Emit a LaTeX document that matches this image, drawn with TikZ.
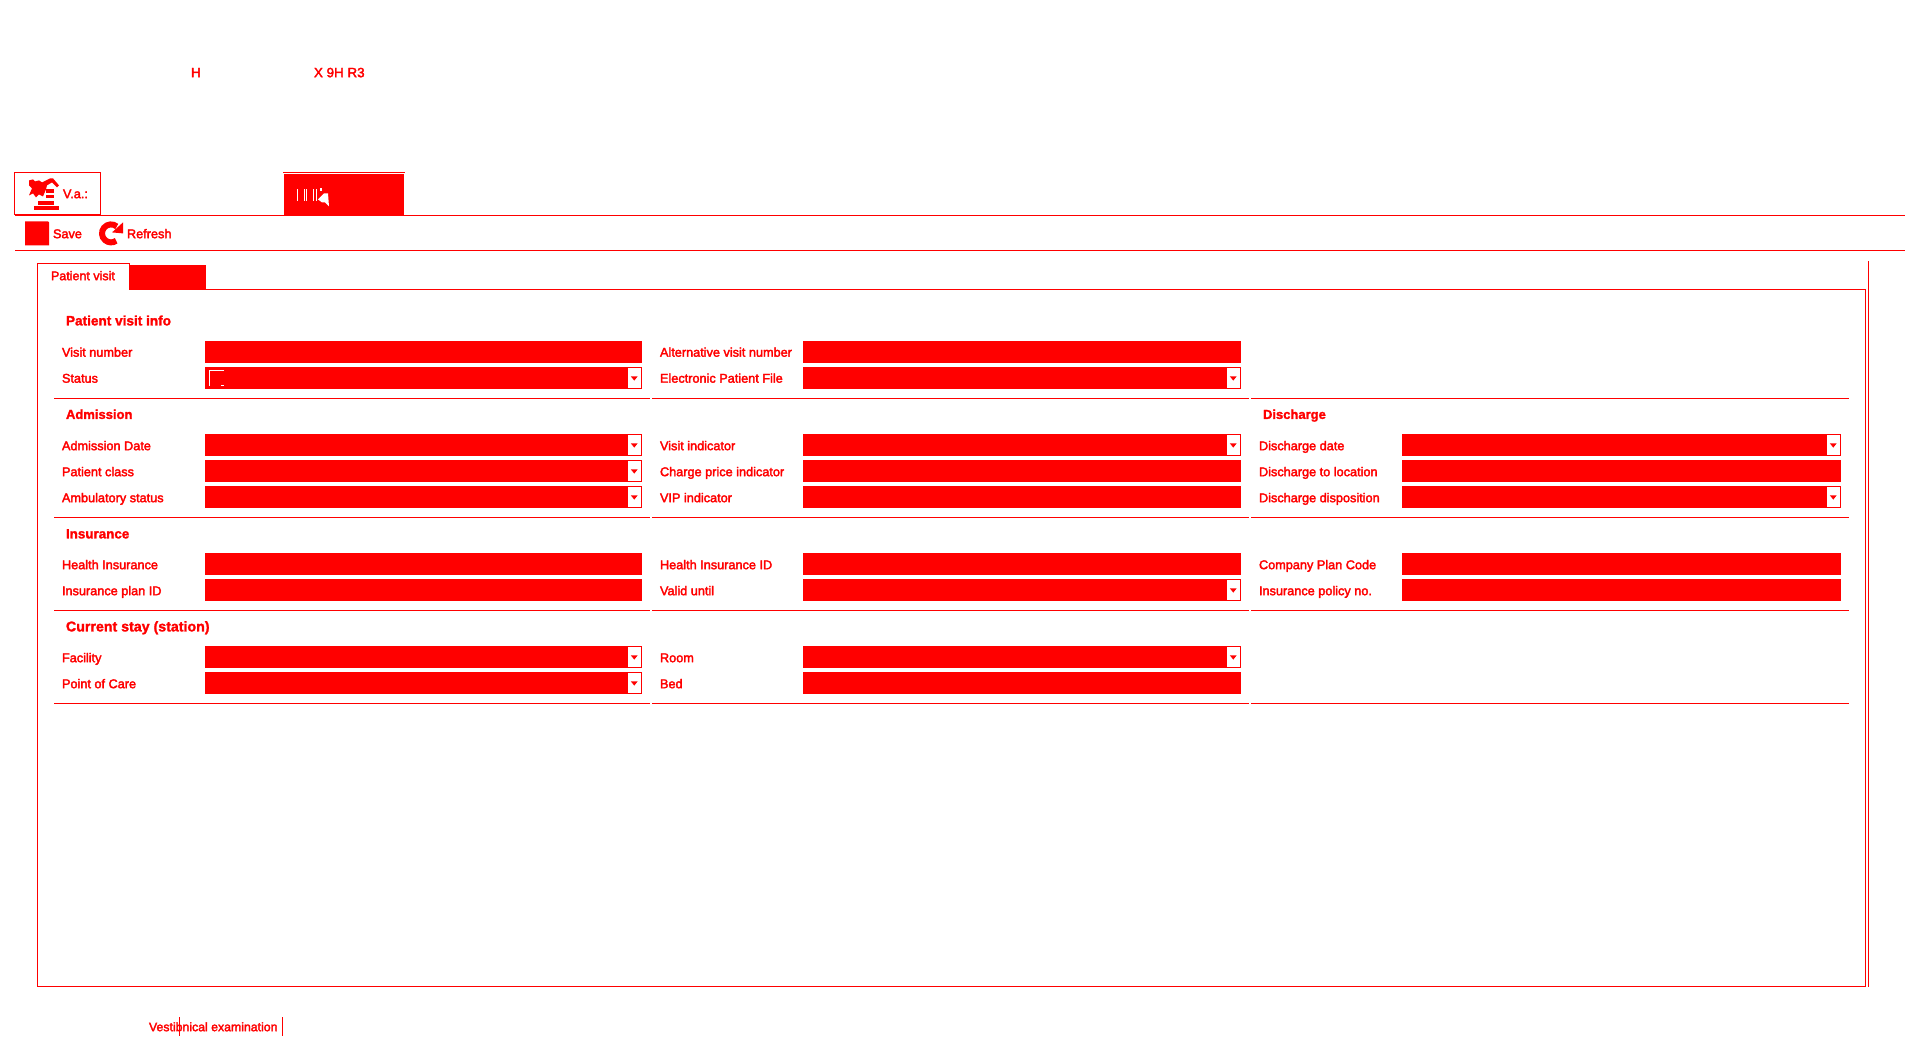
\documentclass[tikz,border=0pt]{standalone}
\usepackage{fontspec}
\setmainfont{Liberation Sans}
\newfontfamily\uifont[FakeBold=2.6]{Liberation Sans}
\newfontfamily\headfont[FakeBold=1.6]{Liberation Sans Bold}
\definecolor{mask}{RGB}{255,0,0}
\tikzset{
  uiline/.style={draw=mask,line width=1pt},
  uilabel/.style={anchor=base west,inner sep=0pt,outer sep=0pt,yshift=0.7pt,text=mask,font=\uifont\fontsize{12.7pt}{14pt}\selectfont},
  uihead/.style={anchor=base west,inner sep=0pt,outer sep=0pt,yshift=0.5pt,text=mask,font=\headfont\fontsize{13.6pt}{15pt}\selectfont},
  fieldbox/.style={anchor=north west,inner sep=0pt,outer sep=0pt,fill=mask,draw=none,minimum height=22pt},
  combobtn/.style={anchor=north east,inner sep=0pt,outer sep=0pt,fill=white,draw=mask,line width=1pt,minimum width=14.5pt,minimum height=21pt},
  droparrow/.style={fill=mask,draw=none},
  solidred/.style={fill=mask,draw=none}
}
\newcommand{\tfield}[3]{\node[fieldbox,minimum width=#2 pt] (#1) at #3 {};}
\newcommand{\cfield}[3]{%
  \node[fieldbox,minimum width=#2 pt] (#1) at #3 {};
  \node[combobtn] (#1btn) at ([xshift=-0.5pt,yshift=-0.5pt]#1.north east) {};
  \fill[droparrow] ([xshift=-3.4pt,yshift=2pt]#1btn.center) -- ([xshift=3.4pt,yshift=2pt]#1btn.center) -- ([yshift=-2.2pt]#1btn.center) -- cycle;}
\newcommand{\dividers}[2]{%
  \coordinate (#1a) at (54,#2); \coordinate (#1b) at (650,#2);
  \coordinate (#1c) at (652,#2); \coordinate (#1d) at (1249,#2);
  \coordinate (#1e) at (1251,#2); \coordinate (#1f) at (1849,#2);
  \draw[uiline] (#1a) -- (#1b) (#1c) -- (#1d) (#1e) -- (#1f);}
\begin{document}
\begin{tikzpicture}[x=1pt,y=-1pt]
\useasboundingbox (0,0) rectangle (1920,1040);
\begin{scope}[yshift=0.6pt]
% top garbled text
\node[uilabel,font=\uifont\fontsize{13.4pt}{15pt}\selectfont] (topa) at (191,78.5) {H};
\node[uilabel,font=\uifont\fontsize{13.4pt}{15pt}\selectfont] (topb) at (314,78.5) {X 9H R3};
% header tabs
\node[draw=mask,line width=1pt,anchor=north west,inner sep=0pt,outer sep=0pt,minimum width=85.5pt,minimum height=42pt] (tableft) at (14.5,173.5) {};
% person icon
\fill[solidred] (29,181) -- (33,180) -- (35,182) -- (39,181) -- (42,183) -- (50,179) -- (53,179) -- (59,186) -- (57,188) -- (52,183) -- (47,186) -- (46,190) -- (43,197) -- (39,195) -- (36,198) -- (33,194) -- (29,196) -- (32,189) -- (29,186) -- cycle;
\fill[solidred] (46,190) rectangle (54,194);
\fill[solidred] (46,196) rectangle (54,199);
\fill[solidred] (38,202) rectangle (54,206);
\fill[solidred] (34,207) rectangle (59,211);
\node[uilabel] (vtab) at (63,199.5) {V.a.:};
% active red tab
\coordinate (rtl) at (283,173.5); \coordinate (rtr) at (405,173.5);
\draw[uiline] (rtl) -- (rtr);
\node[anchor=north west,fill=mask,inner sep=0pt,outer sep=0pt,minimum width=120pt,minimum height=41pt] (redtab) at (284,175) {};
\foreach \xx in {297,304,306,313,316}{
  \fill[white] (\xx,190) rectangle ++(1,12);}
\fill[white] (318,200) -- (324,194) -- (328,194) -- (329,207) -- (325,203) -- (322,203) -- cycle;
\fill[white] (320,189) rectangle (322,192);
% toolbar lines
\coordinate (la) at (15,216.5); \coordinate (lb) at (1905,216.5);
\coordinate (lc) at (15,251.5); \coordinate (ld) at (1905,251.5);
\draw[uiline] (la) -- (lb);
\draw[uiline] (lc) -- (ld);
% toolbar
\fill[solidred] (25,222) -- (48,222) -- (49,223) -- (49,246) -- (25,246) -- cycle;
\node[uilabel] (save) at (53,239.5) {Save};
\draw[draw=mask,line width=6pt] (116.8,227.1) arc[start angle=50,end angle=305,radius=9pt];
\fill[solidred] (123,223) -- (123,234) -- (112,233) -- cycle;
\node[uilabel] (refresh) at (127,239.5) {Refresh};
% page tabs + frame
\coordinate (fa) at (37.5,987.5); \coordinate (fb) at (37.5,264.5); \coordinate (fc) at (129,264.5);
\coordinate (fd) at (129,290.5); \coordinate (fe) at (1865.5,290.5); \coordinate (ff) at (1865.5,987.5);
\draw[uiline] (fa) -- (fb) -- (fc) -- (fd) -- (fe) -- (ff) -- cycle;
\coordinate (ra) at (1868.5,262); \coordinate (rb) at (1868.5,988);
\draw[uiline] (ra) -- (rb);
\node[anchor=north west,fill=mask,inner sep=0pt,outer sep=0pt,minimum width=77pt,minimum height=24pt] (tab2) at (129,266) {};
\node[uilabel,font=\uifont\fontsize{12.5pt}{14pt}\selectfont] (tab1) at (51,281.5) {Patient visit};
% headings
\node[uihead] (h1) at (66,326.5) {Patient visit info};
\node[uihead,font=\headfont\fontsize{13pt}{15pt}\selectfont] (h2) at (66,420) {Admission};
\node[uihead,font=\headfont\fontsize{13pt}{15pt}\selectfont] (h3) at (1263,420) {Discharge};
\node[uihead,font=\headfont\fontsize{13.4pt}{15pt}\selectfont] (h4) at (66,539.5) {Insurance};
\node[uihead,font=\headfont\fontsize{14.2pt}{15pt}\selectfont] (h5) at (66,632.5) {Current stay (station)};
% dividers
\dividers{da}{399.5}
\dividers{db}{518.5}
\dividers{dc}{611.5}
\dividers{dd}{704.5}
% Patient visit info
\node[uilabel] (l11) at (62,358) {Visit number};
\tfield{f11}{437}{(205,342)}
\node[uilabel] (l12) at (660,358) {Alternative visit number};
\tfield{f12}{438}{(803,342)}
\node[uilabel] (l21) at (62,384) {Status};
\cfield{f21}{437}{(205,368)}
\draw[white,line width=1pt] (224,371.5) -- (209,371.5) -- (209,387);
\draw[white,line width=1pt] (221,386.5) -- (224,386.5);
\node[uilabel] (l22) at (660,384) {Electronic Patient File};
\cfield{f22}{438}{(803,368)}
% Admission / Discharge
\node[uilabel] (l31) at (62,451.5) {Admission Date};
\cfield{f31}{437}{(205,435)}
\node[uilabel] (l32) at (660,451.5) {Visit indicator};
\cfield{f32}{438}{(803,435)}
\node[uilabel] (l33) at (1259,451.5) {Discharge date};
\cfield{f33}{439}{(1402,435)}
\node[uilabel] (l41) at (62,477.5) {Patient class};
\cfield{f41}{437}{(205,461)}
\node[uilabel] (l42) at (660,477.5) {Charge price indicator};
\tfield{f42}{438}{(803,461)}
\node[uilabel] (l43) at (1259,477.5) {Discharge to location};
\tfield{f43}{439}{(1402,461)}
\node[uilabel] (l51) at (62,503.5) {Ambulatory status};
\cfield{f51}{437}{(205,487)}
\node[uilabel] (l52) at (660,503.5) {VIP indicator};
\tfield{f52}{438}{(803,487)}
\node[uilabel] (l53) at (1259,503.5) {Discharge disposition};
\cfield{f53}{439}{(1402,487)}
% Insurance
\node[uilabel] (l61) at (62,570.5) {Health Insurance};
\tfield{f61}{437}{(205,554)}
\node[uilabel] (l62) at (660,570.5) {Health Insurance ID};
\tfield{f62}{438}{(803,554)}
\node[uilabel] (l63) at (1259,570.5) {Company Plan Code};
\tfield{f63}{439}{(1402,554)}
\node[uilabel] (l71) at (62,596.5) {Insurance plan ID};
\tfield{f71}{437}{(205,580)}
\node[uilabel] (l72) at (660,596.5) {Valid until};
\cfield{f72}{438}{(803,580)}
\node[uilabel] (l73) at (1259,596.5) {Insurance policy no.};
\tfield{f73}{439}{(1402,580)}
% Current stay
\node[uilabel] (l81) at (62,663.5) {Facility};
\cfield{f81}{437}{(205,647)}
\node[uilabel] (l82) at (660,663.5) {Room};
\cfield{f82}{438}{(803,647)}
\node[uilabel] (l91) at (62,689.5) {Point of Care};
\cfield{f91}{437}{(205,673)}
\node[uilabel] (l92) at (660,689.5) {Bed};
\tfield{f92}{438}{(803,673)}
% bottom tab text
\node[uilabel,font=\uifont\fontsize{12.3pt}{14pt}\selectfont] (bottom) at (149,1032.5) {Vestibnical examination};
\coordinate (va) at (179.5,1018); \coordinate (vb) at (179.5,1037);
\coordinate (vc) at (282.5,1018); \coordinate (vd) at (282.5,1037);
\draw[uiline] (va) -- (vb);
\draw[uiline] (vc) -- (vd);
\end{scope}
\end{tikzpicture}
\end{document}
